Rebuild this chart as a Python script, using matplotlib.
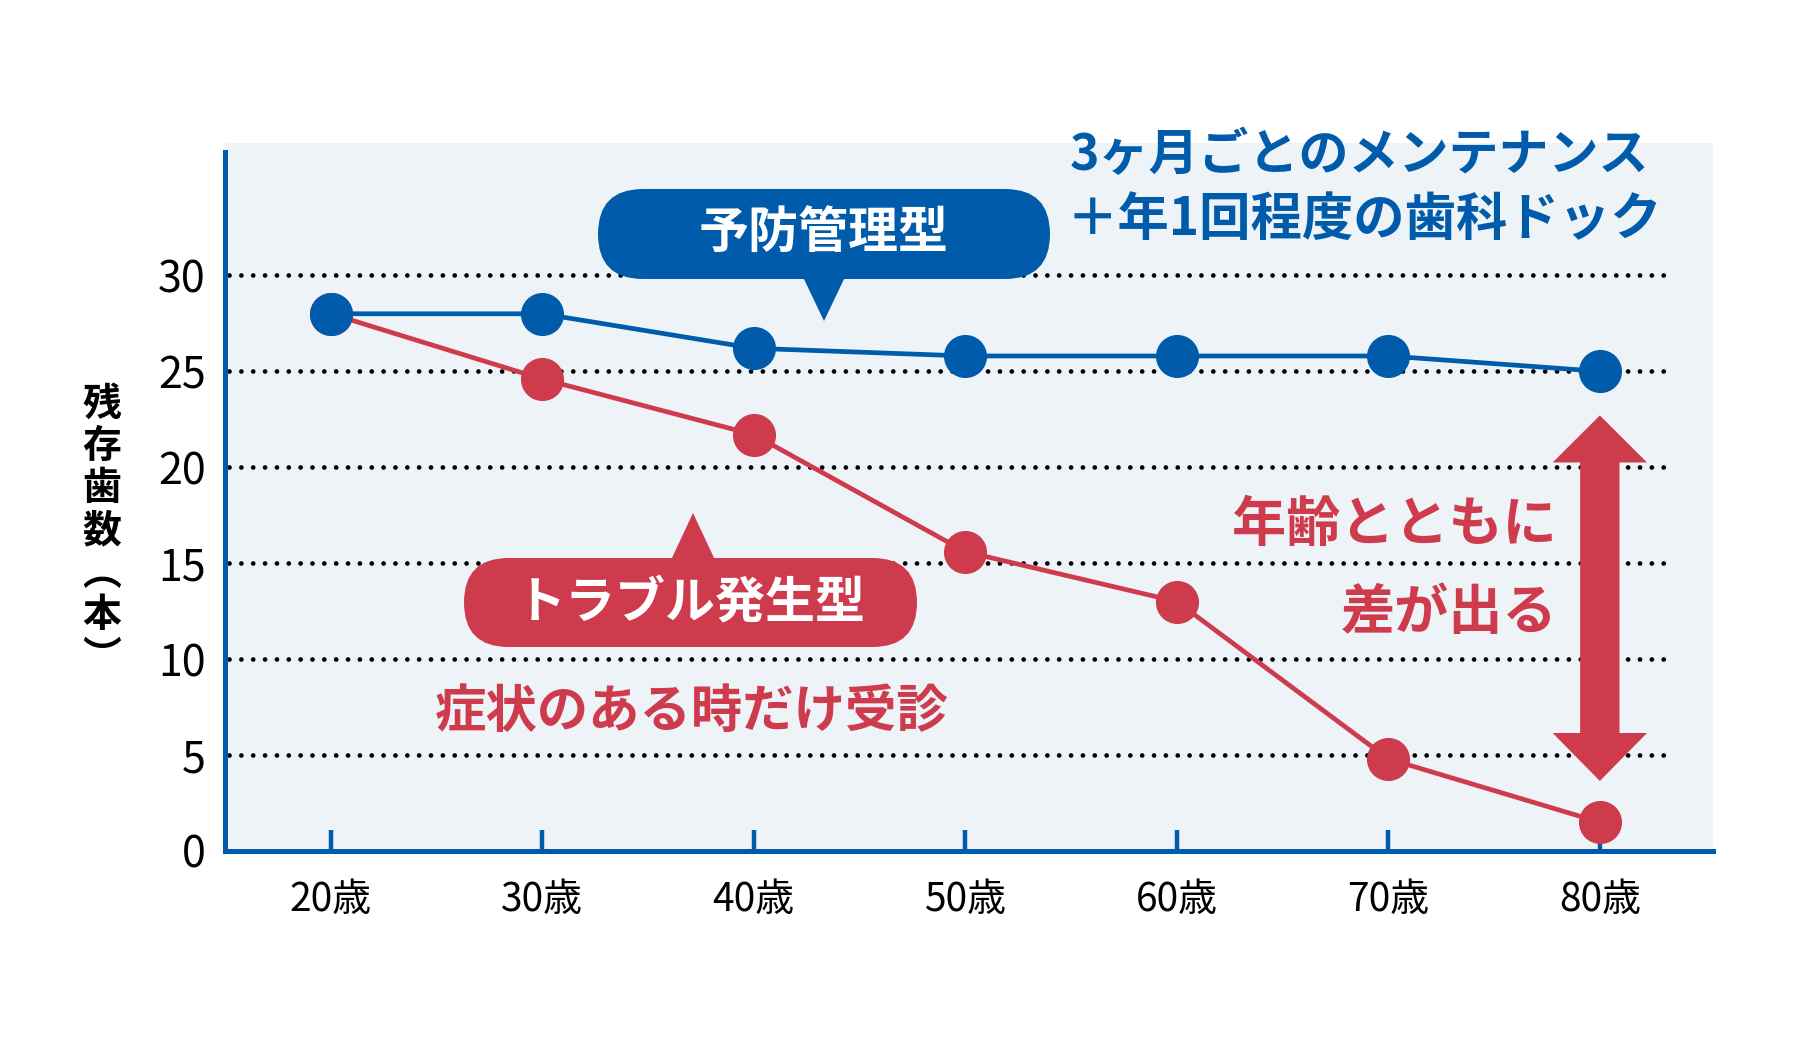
import matplotlib
matplotlib.use("Agg")
import matplotlib.pyplot as plt
from matplotlib.patches import FancyBboxPatch, Polygon

plt.rcParams['font.family'] = ['Noto Sans CJK JP', 'DejaVu Sans']

# --------- data ---------
ages = [20, 30, 40, 50, 60, 70, 80]
age_labels = [f"{a}歳" for a in ages]
prevent = [28, 28, 26.2, 25.8, 25.8, 25.8, 25.0]   # 予防管理型
trouble = [28, 24.6, 21.7, 15.6, 13.0, 4.8, 1.5]   # トラブル発生型
yticks = [0, 5, 10, 15, 20, 25, 30]

BLUE = "#005bab"
RED = "#cd3b4c"
BG = "#eef3f7"

W, H = 1820, 1043
fig = plt.figure(figsize=(W / 100, H / 100), dpi=100)
ax = fig.add_axes([225 / W, 1 - 851 / H, (1713 - 225) / W, (851 - 143) / H])
ax.set_facecolor(BG)


def px(x, y):
    # pixel position (from top-left) -> inches for fig.dpi_scale_trans
    return x / 100, (H - y) / 100


# dotted grid
for y in yticks[1:]:
    ax.plot([15.2, 83.1], [y, y], color="black", lw=3.4,
            ls=(0, (0.01, 2.5)), dash_capstyle="round", zorder=1)

# series
ax.plot(ages, trouble, color=RED, lw=3.4, marker="o", ms=30, zorder=3)
ax.plot(ages, prevent, color=BLUE, lw=3.4, marker="o", ms=30, zorder=4)

# axes styling
ax.set_xlim(15, 85.35)
ax.set_ylim(0, 36.9)
for s in ["top", "right"]:
    ax.spines[s].set_visible(False)
for s in ["left", "bottom"]:
    ax.spines[s].set_color(BLUE)
    ax.spines[s].set_linewidth(3.6)
ax.spines["left"].set_bounds(0, 36.45)

ax.set_xticks(ages)
ax.set_xticklabels(age_labels)
ax.set_yticks(yticks)
ax.tick_params(axis="x", direction="in", length=15, width=3.2, color=BLUE,
               labelsize=28, pad=21)
ax.tick_params(axis="y", length=0, labelsize=31, pad=14)
ax.xaxis.get_major_ticks()[-1].tick1line.set_color(RED)

# y label, stacked vertically
ax.text(*px(102, 531), "残\n存\n歯\n数\n︵\n本\n︶", transform=fig.dpi_scale_trans,
        ha="center", va="center", fontsize=28, fontweight="bold",
        linespacing=1.1)


def callout(x0, y0, x1, y1, tri, color, label):
    bx, by = px(x0, y1)
    h = (y1 - y0) / 100
    box = FancyBboxPatch((bx, by), (x1 - x0) / 100, h,
                         boxstyle=f"round,pad=0,rounding_size={h / 2}",
                         transform=fig.dpi_scale_trans, fc=color, ec="none",
                         zorder=5, clip_on=False)
    ax.add_patch(box)
    ax.add_patch(Polygon([px(*p) for p in tri], closed=True,
                         transform=fig.dpi_scale_trans, fc=color, ec="none",
                         zorder=5, clip_on=False))
    ax.text(*px((x0 + x1) / 2, (y0 + y1) / 2), label,
            transform=fig.dpi_scale_trans, ha="center", va="center",
            color="white", fontsize=36, fontweight="bold", zorder=6)


callout(598, 189, 1050, 279, [(803, 277), (845, 277), (824, 321)], BLUE, "予防管理型")
callout(464, 558, 917, 647, [(671, 560), (715, 560), (693, 513)], RED, "トラブル発生型")

ax.text(*px(692, 711), "症状のある時だけ受診", transform=fig.dpi_scale_trans,
        ha="center", va="center", color=RED, fontsize=37, fontweight="bold")

ax.text(*px(1070, 156), "3ヶ月ごとのメンテナンス", transform=fig.dpi_scale_trans,
        ha="left", va="center", color=BLUE, fontsize=36, fontweight="bold")
ax.text(*px(1066, 219), "＋年1回程度の歯科ドック", transform=fig.dpi_scale_trans,
        ha="left", va="center", color=BLUE, fontsize=37, fontweight="bold")

ax.text(*px(1557, 525), "年齢とともに", transform=fig.dpi_scale_trans,
        ha="right", va="center", color=RED, fontsize=39, fontweight="bold")
ax.text(*px(1557, 613), "差が出る", transform=fig.dpi_scale_trans,
        ha="right", va="center", color=RED, fontsize=39, fontweight="bold")

# double arrow between the two series at 80
xc = ages[-1]
sw, hw = 0.93, 2.23
top, top_base, bot_base, bot = 22.7, 20.25, 6.15, 3.65
arrow = [(xc, top), (xc + hw, top_base), (xc + sw, top_base), (xc + sw, bot_base),
         (xc + hw, bot_base), (xc, bot), (xc - hw, bot_base), (xc - sw, bot_base),
         (xc - sw, top_base), (xc - hw, top_base)]
ax.add_patch(Polygon(arrow, closed=True, fc=RED, ec="none", zorder=2))

fig.savefig("out.png", dpi=100, facecolor="white")
